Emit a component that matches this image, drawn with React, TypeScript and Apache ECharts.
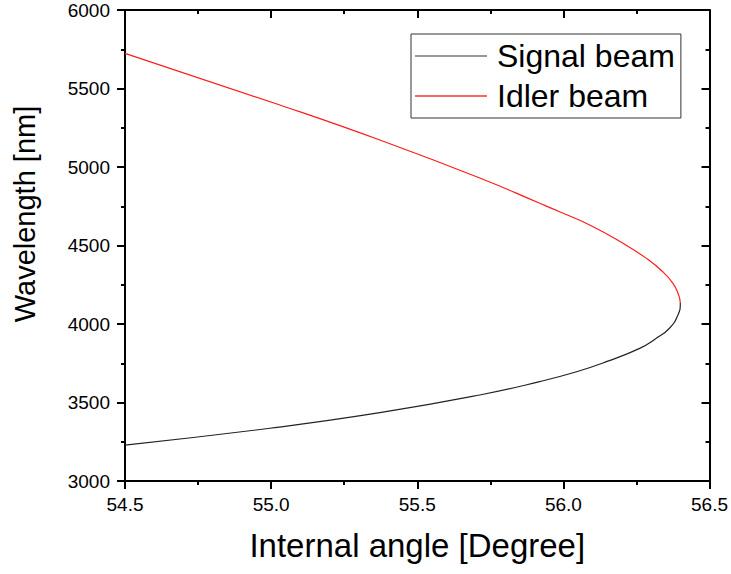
import React, { useEffect, useRef } from "react";
import * as echarts from "echarts";

const idlerAngle = [54.5, 55.03, 55.372, 55.714, 55.919, 55.987, 56.09, 56.204, 56.284, 56.34, 56.375, 56.392, 56.4];
const idlerWavelength = [5724, 5395, 5172, 4930, 4769, 4715, 4631, 4514, 4418, 4333, 4259, 4196, 4132];
const signalAngle = [56.4, 56.392, 56.363, 56.318, 56.261, 56.147, 56.045, 55.919, 55.714, 55.372, 54.996, 54.5];
const signalWavelength = [4132, 4057, 3973, 3909, 3845, 3760, 3696, 3633, 3548, 3435, 3336, 3229];
const seriesNames = ["Signal beam", "Idler beam"];
const seriesColors = ["#222", "#ff1a1a"];
const legendColors = ["#777", "#ff3030"];
const xTitle = "Internal angle [Degree]";
const yTitle = "Wavelength [nm]";

const FONT = "Arial, 'Liberation Sans', sans-serif";

export default function App() {
  const ref = useRef<HTMLDivElement>(null);
  useEffect(() => {
    document.body.style.margin = "0";
    if (!ref.current) return;
    const chart = echarts.init(ref.current, null, { renderer: "svg" });
    const axisLine = { show: true, lineStyle: { color: "#000", width: 2 } };
    const xBase = { type: "value" as const, min: 54.5, max: 56.5, interval: 0.5 };
    const yBase = { type: "value" as const, min: 3000, max: 6000, interval: 500 };
    // one continuous curve: idler (top branch) to the tip, then signal (bottom branch)
    const curve = [
      ...idlerAngle.map((a, i) => [a, idlerWavelength[i]]),
      ...signalAngle.slice(1).map((a, i) => [a, signalWavelength[i + 1]]),
    ];
    const allWl = [...idlerWavelength, ...signalWavelength];
    const wlMax = Math.max(...allWl);
    const wlMin = Math.min(...allWl);
    const tipWl = idlerWavelength[idlerWavelength.length - 1];
    const f = (wlMax - tipWl) / (wlMax - wlMin);
    const gradient = new echarts.graphic.LinearGradient(0, 0, 0, 1, [
      { offset: 0, color: seriesColors[1] },
      { offset: f, color: seriesColors[1] },
      { offset: f, color: seriesColors[0] },
      { offset: 1, color: seriesColors[0] },
    ]);
    chart.setOption({
      animation: false,
      backgroundColor: "#fff",
      textStyle: { fontFamily: FONT },
      grid: { left: 125, right: 21, top: 10, bottom: 93, containLabel: false },
      legend: {
        data: seriesNames.map((n) => ({ name: n, icon: "rect" })),
        orient: "vertical",
        left: 411,
        top: 34,
        padding: [6, 6, 6, 4],
        itemGap: 8,
        itemWidth: 72,
        itemHeight: 1.5,
        borderColor: "#333",
        borderWidth: 1,
        textStyle: { fontFamily: FONT, fontSize: 32, color: "#000", padding: [0, 0, 0, 5] },
      },
      graphic: [
        {
          type: "text",
          x: 25,
          y: 214,
          rotation: Math.PI / 2,
          style: {
            text: yTitle,
            font: `29px ${FONT}`,
            fill: "#000",
            textAlign: "center",
            textVerticalAlign: "middle",
          },
        },
      ],
      xAxis: [
        {
          ...xBase,
          position: "bottom",
          axisLine,
          axisTick: { show: true, inside: false, length: 8, lineStyle: { color: "#000", width: 2 } },
          minorTick: { show: true, splitNumber: 2, length: 4, lineStyle: { color: "#000", width: 2 } },
          splitLine: { show: false },
          axisLabel: {
            fontFamily: FONT,
            fontSize: 19,
            color: "#000",
            margin: 14,
            formatter: (v: number) => v.toFixed(1),
          },
          name: xTitle,
          nameLocation: "middle",
          nameGap: 48,
          nameTextStyle: { fontFamily: FONT, fontSize: 33, color: "#000" },
        },
        {
          ...xBase,
          position: "top",
          axisLine,
          axisTick: { show: true, inside: true, length: 8, lineStyle: { color: "#000", width: 2 } },
          minorTick: { show: true, splitNumber: 2, length: 4, lineStyle: { color: "#000", width: 2 } },
          splitLine: { show: false },
          axisLabel: { show: false },
        },
      ],
      yAxis: [
        {
          ...yBase,
          position: "left",
          axisLine,
          axisTick: { show: true, inside: false, length: 8, lineStyle: { color: "#000", width: 2 } },
          minorTick: { show: true, splitNumber: 2, length: 4, lineStyle: { color: "#000", width: 2 } },
          splitLine: { show: false },
          axisLabel: {
            fontFamily: FONT,
            fontSize: 19,
            color: "#000",
            margin: 15,
            formatter: (v: number) => String(v),
          },
        },
        {
          ...yBase,
          position: "right",
          axisLine,
          axisTick: { show: true, inside: true, length: 8, lineStyle: { color: "#000", width: 2 } },
          minorTick: { show: true, splitNumber: 2, length: 4, lineStyle: { color: "#000", width: 2 } },
          splitLine: { show: false },
          axisLabel: { show: false },
        },
      ],
      series: [
        {
          name: seriesNames[0],
          type: "line",
          data: [],
          symbol: "none",
          lineStyle: { color: legendColors[0], width: 1.2 },
          itemStyle: { color: legendColors[0] },
        },
        {
          name: seriesNames[1],
          type: "line",
          data: [],
          symbol: "none",
          lineStyle: { color: legendColors[1], width: 1.2 },
          itemStyle: { color: legendColors[1] },
        },
        {
          name: "curve",
          type: "line",
          xAxisIndex: 0,
          yAxisIndex: 0,
          data: curve,
          symbol: "none",
          smooth: 0.5,
          lineStyle: { width: 1.2, color: gradient },
          itemStyle: { color: seriesColors[0] },
        },
      ],
    });
    return () => chart.dispose();
  }, []);
  return <div ref={ref} style={{ width: 731, height: 574 }} />;
}
